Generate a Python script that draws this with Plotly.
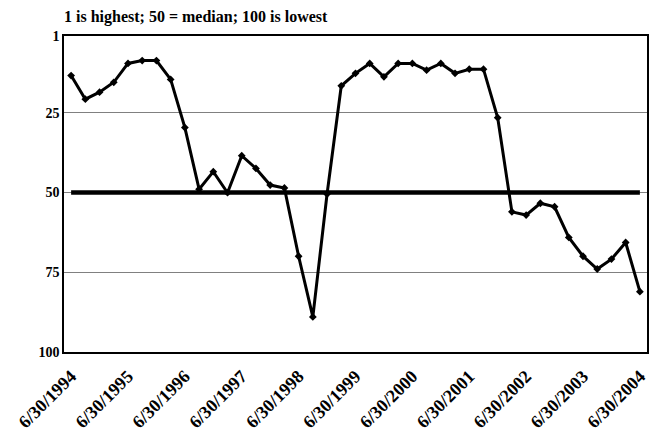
import plotly.graph_objects as go

# Quarterly dates 6/30/1994 .. 6/30/2004
quarters = []
for yr in range(1994, 2005):
    for md in ["3/31", "6/30", "9/30", "12/31"]:
        quarters.append(f"{md}/{yr}")
start = quarters.index("6/30/1994")
end = quarters.index("6/30/2004")
categories = quarters[start:end + 1]

rank = [13.4, 20.8, 18.6, 15.5, 9.6, 8.7, 8.7, 14.6, 29.7, 49.0,
        43.5, 50.1, 38.5, 42.5, 47.7, 48.6, 70.0, 89.0, 50.5, 16.6,
        12.7, 9.6, 13.8, 9.6, 9.6, 11.7, 9.6, 12.7, 11.4, 11.4,
        26.6, 56.1, 57.1, 53.4, 54.5, 64.1, 70.0, 74.0, 70.9, 65.7,
        81.1]
median = [50] * len(categories)

tick_labels = categories[::4]
y_ticks = [1, 25, 50, 75, 100]

font_family = "Liberation Serif, DejaVu Serif, serif"

fig = go.Figure()
fig.add_trace(go.Scatter(
    x=categories, y=median, mode="lines",
    line=dict(color="black", width=4.5), hoverinfo="skip", showlegend=False))
fig.add_trace(go.Scatter(
    x=categories, y=rank, mode="lines+markers",
    line=dict(color="black", width=3),
    marker=dict(symbol="diamond", size=6, color="black"),
    showlegend=False))

fig.update_layout(
    width=656, height=445,
    margin=dict(l=64, r=9, t=36, b=93),
    paper_bgcolor="white", plot_bgcolor="white",
    font=dict(family=font_family, color="black", size=14),
    title=dict(text="<b>1 is highest; 50 = median; 100 is lowest</b>",
               x=64 / 656, xanchor="left", y=1 - 16 / 445, yanchor="middle",
               font=dict(family=font_family, size=16, color="black")),
)
fig.update_xaxes(
    type="category", categoryorder="array", categoryarray=categories,
    range=[-0.5, len(categories) - 0.5], automargin=False,
    tickvals=tick_labels, ticktext=[f"<b>{t}</b>" for t in tick_labels],
    tickangle=-45, tickfont=dict(size=18), ticklabelstandoff=5,
    showgrid=False, showline=True, linecolor="black", linewidth=1.5,
    mirror=True, ticks="", zeroline=False)
fig.update_yaxes(
    range=[100, 1], tickvals=y_ticks, automargin=False,
    ticktext=[f"<b>{t}</b>" for t in y_ticks],
    tickfont=dict(size=14),
    showgrid=True, gridcolor="#808080", gridwidth=1,
    showline=True, linecolor="black", linewidth=1.5, mirror=True,
    ticks="", zeroline=False)

fig.write_html("out.html", config={"displayModeBar": False},
               post_script="document.body.style.margin='0';document.body.style.overflow='hidden';")
